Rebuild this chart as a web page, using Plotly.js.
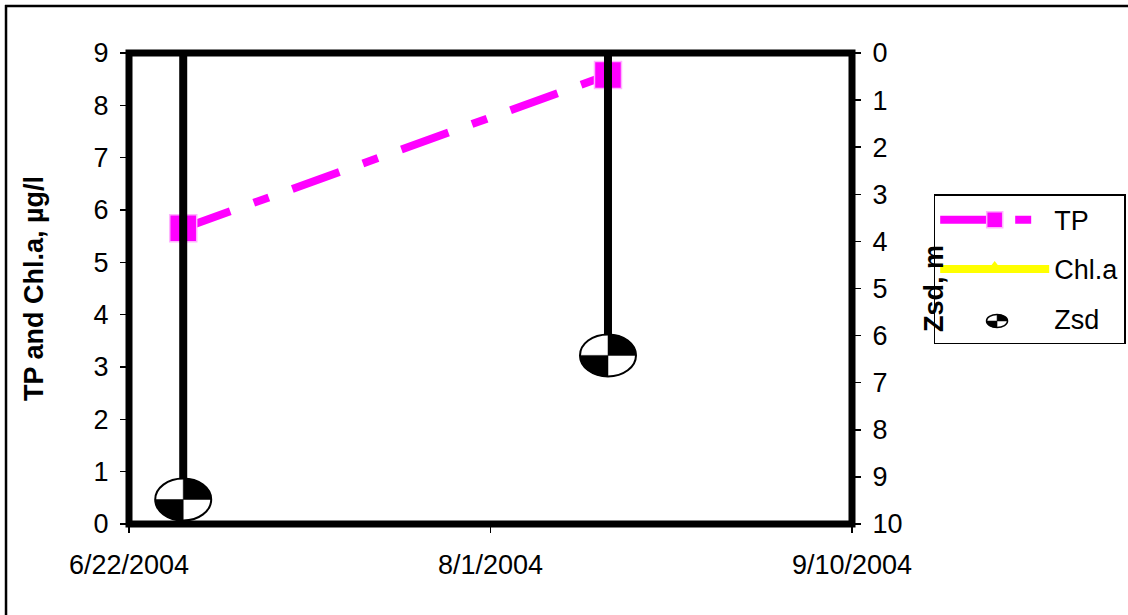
<!DOCTYPE html>
<html>
<head>
<meta charset="utf-8">
<script src="https://cdn.plot.ly/plotly-3.0.1.min.js"></script>
<style>html,body{margin:0;padding:0;background:#fff;}#chart{width:1128px;height:615px;}</style>
</head>
<body>
<div id="chart"></div>
<script>
// ---- data ----
const tpDates = ['2004-06-28', '2004-08-14'];
const tpValues = [5.65, 8.58];
const chlDates = ['2004-06-28', '2004-08-14'];
const chlValues = [null, null];
const zsdDates = ['2004-06-28', '2004-08-14'];
const zsdValues = [9.48, 6.42];
const xTickVals = ['2004-06-22', '2004-08-01', '2004-09-10'];
const xTickText = ['6/22/2004', '8/1/2004', '9/10/2004'];
const xRange = ['2004-06-22', '2004-09-10'];

const FONT = 'Liberation Sans, Arial, sans-serif';

const traces = [];
// drop lines for Zsd (from 0 m to depth)
zsdDates.forEach(function (d, i) {
  traces.push({
    x: [d, d], y: [0, zsdValues[i]], yaxis: 'y2', mode: 'lines',
    line: {color: '#000000', width: 8}, showlegend: false, hoverinfo: 'skip'
  });
});
traces.push({
  name: 'TP', x: tpDates, y: tpValues, mode: 'lines+markers', legendgroup: 'a',
  line: {color: '#ff00ff', width: 8, dash: '50px,25px,16px,25px'},
  marker: {symbol: 'square', size: 27, color: '#ff00ff', line: {color: '#ffb3ff', width: 1.5}}
});
traces.push({
  name: 'Chl.a', x: chlDates, y: chlValues, mode: 'lines+markers', legendgroup: 'b',
  line: {color: '#ffff00', width: 8},
  marker: {symbol: 'triangle-up', size: 22, color: '#ffff00'}
});
traces.push({
  name: 'Zsd', x: [null], y: [null], yaxis: 'y2', mode: 'markers', legendgroup: 'c',
  marker: {symbol: 'circle', size: 12, color: 'rgba(0,0,0,0)'}
});

// Secchi disk shape builder (pixel-sized, anchored to data)
function secchi(xref, yref, xa, ya, a, b, lw) {
  const k = 0.5523;
  const out = [];
  out.push({type: 'circle', xref: xref, yref: yref, xsizemode: 'pixel', ysizemode: 'pixel',
    xanchor: xa, yanchor: ya, x0: -a, x1: a, y0: -b, y1: b,
    fillcolor: '#ffffff', line: {color: '#000000', width: lw}, layer: 'above'});
  out.push({type: 'path', xref: xref, yref: yref, xsizemode: 'pixel', ysizemode: 'pixel',
    xanchor: xa, yanchor: ya,
    path: 'M0,0 L' + a + ',0 C' + a + ',' + (k * b) + ' ' + (k * a) + ',' + b + ' 0,' + b + ' Z',
    fillcolor: '#000000', line: {color: '#000000', width: 0.5}, layer: 'above'});
  out.push({type: 'path', xref: xref, yref: yref, xsizemode: 'pixel', ysizemode: 'pixel',
    xanchor: xa, yanchor: ya,
    path: 'M0,0 L' + (-a) + ',0 C' + (-a) + ',' + (-k * b) + ' ' + (-k * a) + ',' + (-b) + ' 0,' + (-b) + ' Z',
    fillcolor: '#000000', line: {color: '#000000', width: 0.5}, layer: 'above'});
  return out;
}

let shapes = [];
// outer figure border (left and top)
shapes.push({type: 'line', xref: 'paper', yref: 'paper', x0: -0.1701, x1: -0.1701, y0: 1.1019, y1: -0.2, line: {color: '#000', width: 2.5}, layer: 'above'});
shapes.push({type: 'line', xref: 'paper', yref: 'paper', x0: -0.1715, x1: 1.4, y0: 1.1, y1: 1.1, line: {color: '#000', width: 2.5}, layer: 'above'});
// plot frame
shapes.push({type: 'rect', xref: 'paper', yref: 'paper', x0: 0, x1: 1, y0: 0, y1: 1, line: {color: '#000', width: 7}, layer: 'above'});
zsdDates.forEach(function (d, i) {
  shapes = shapes.concat(secchi('x', 'y2', d, zsdValues[i], 28, 21, 2));
});
// legend icon for Zsd
shapes = shapes.concat(secchi('paper', 'paper', 1.2006, 0.431, 10.5, 6.5, 1.5));

const layout = {
  width: 1128, height: 615,
  margin: {l: 129, r: 276, t: 53, b: 91, autoexpand: false},
  paper_bgcolor: '#ffffff', plot_bgcolor: '#ffffff',
  font: {family: FONT, size: 27, color: '#000000'},
  showlegend: true,
  legend: {x: 1.113, y: 0.70, xanchor: 'left', yanchor: 'top', bgcolor: 'rgba(0,0,0,0)',
    bordercolor: '#000000', borderwidth: 1.5, font: {family: FONT, size: 27, color: '#000'},
    itemwidth: 109, traceorder: 'grouped', tracegroupgap: 11},
  xaxis: {type: 'date', range: xRange, tickvals: xTickVals, ticktext: xTickText,
    ticks: 'outside', ticklen: 8, tickwidth: 1.5, tickcolor: '#000', showgrid: false, zeroline: false,
    showline: false, tickfont: {family: FONT, size: 27, color: '#000'}, ticklabelstandoff: 9, fixedrange: true},
  yaxis: {range: [0, 9], dtick: 1, tick0: 0, ticks: 'outside', ticklen: 8, tickwidth: 1.5, tickcolor: '#000',
    showgrid: false, zeroline: false, showline: false, tickfont: {family: FONT, size: 27, color: '#000'},
    ticklabelstandoff: 6,
    title: {text: '<b>TP and Chl.a, µg/l</b>', font: {family: FONT, size: 27, color: '#000'}, standoff: 42}},
  yaxis2: {range: [10, 0], dtick: 1, tick0: 0, overlaying: 'y', side: 'right', ticks: 'outside', ticklen: 8,
    tickwidth: 1.5, tickcolor: '#000', showgrid: false, zeroline: false, showline: false,
    tickfont: {family: FONT, size: 27, color: '#000'}, ticklabelstandoff: 6,
    title: {text: '<b>Zsd, m</b>', font: {family: FONT, size: 27, color: '#000'}, standoff: 22}},
  shapes: shapes
};

Plotly.newPlot('chart', traces, layout, {displayModeBar: false, staticPlot: true});
</script>
</body>
</html>
